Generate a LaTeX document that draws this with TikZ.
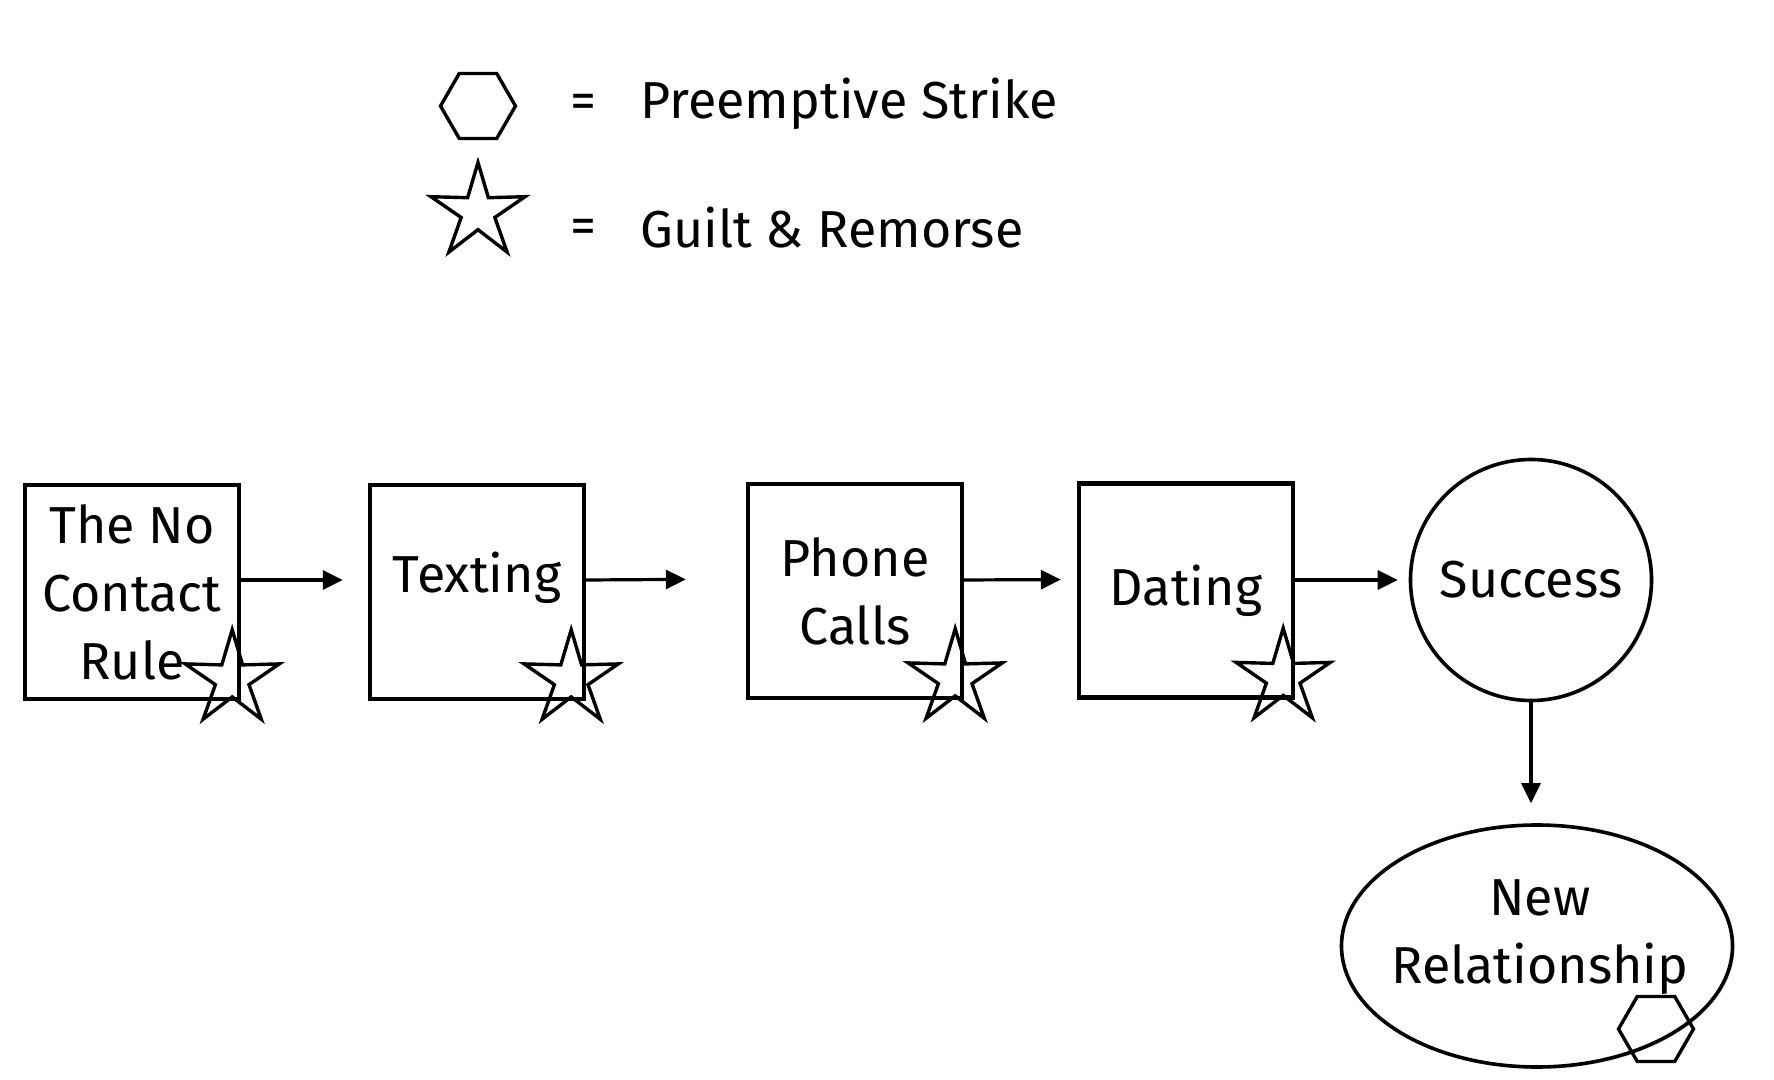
\documentclass[tikz,border=0pt]{standalone}
\usepackage{fontspec}
\setmainfont{Fira Sans}
\usetikzlibrary{shapes.geometric,arrows.meta,shadows}
\tikzset{
stage/.style={
  rectangle, draw, line width=2.2pt, fill=white,
  minimum width=107pt, minimum height=107pt,
  align=center, inner sep=0pt,
  drop shadow={shadow xshift=1pt,shadow yshift=-1pt,opacity=0.2}
},
goal/.style={
  circle, draw, line width=1.8pt, fill=white,
  minimum size=120.5pt, inner sep=0pt,
  drop shadow={shadow xshift=1pt,shadow yshift=-1pt,opacity=0.2}
},
outcome/.style={
  ellipse, draw, line width=1.8pt, fill=white,
  minimum width=195.5pt, minimum height=121pt, inner sep=0pt,
  drop shadow={shadow xshift=1pt,shadow yshift=-1pt,opacity=0.2}
},
guilt/.style={
  star, star points=5, star point ratio=2.8,
  draw, line width=1.7pt, minimum size=49.5pt, inner sep=0pt
},
strike/.style={
  regular polygon, regular polygon sides=6,
  draw, line width=1.7pt, minimum size=37.5pt, inner sep=0pt
},
flow/.style={-{Triangle[length=10pt,width=9.5pt]}, line width=1.6pt},
}

\begin{document}
\begin{tikzpicture}[x=0.5pt,y=-0.5pt,font=\fontsize{26}{34}\selectfont]
\useasboundingbox (0,0) rectangle (1774,1080);
% the legend
\node[strike] (key-strike) at (478,106) {};
\node[guilt] (key-guilt) at (478,212) {};
\node (eq-strike) at (583,106) {=};
\node (eq-guilt) at (583,231) {=};
\node[anchor=west,inner sep=0pt] (strike-text) at (640,104) {Preemptive Strike};
\node[anchor=west,inner sep=0pt] (guilt-text) at (640,228) {Guilt \& Remorse};
% the stages
\node[stage] (rule) at (132,592) {The No\\Contact\\Rule};
\node[stage] (texting) at (477,592) {};
\node (texting-text) at ([yshift=7pt]texting.center) {Texting};
\node[stage] (phone) at (855,591) {Phone\\Calls};
\node[stage] (dating) at (1186,590.5) {Dating};
\node[goal] (success) at (1531,580) {Success};
\node[outcome] (newrel) at (1537,946) {};
\node[align=center] (newrel-text) at (1540,937) {New\\Relationship};
\node[strike] (newrel-strike) at (1656,1029) {};
\foreach \b/\dx in {rule/-4.5,texting/-7.5,phone/-4.5,dating/-6}
{
  \node[guilt] (\b-guilt) at ([xshift=\dx pt,yshift=11pt]\b.south east) {};
}
% the arrows
\draw[flow, shorten >=12.5pt] ([yshift=6pt]rule.east) -- ([yshift=6pt]texting.west);
\draw[flow, shorten >=30pt] ([yshift=6pt]texting.east) -- ([yshift=6pt]phone.west);
\draw[flow, shorten >=8pt] ([xshift=-2pt,yshift=5.5pt]phone.east) -- ([yshift=5.5pt]dating.west);
\draw[flow, shorten >=5.5pt] ([yshift=5.25pt]dating.east) -- (success.west);
\draw[flow, shorten >=10pt] (success.south) -- (success.south |- newrel.north);
\end{tikzpicture}
\end{document}
